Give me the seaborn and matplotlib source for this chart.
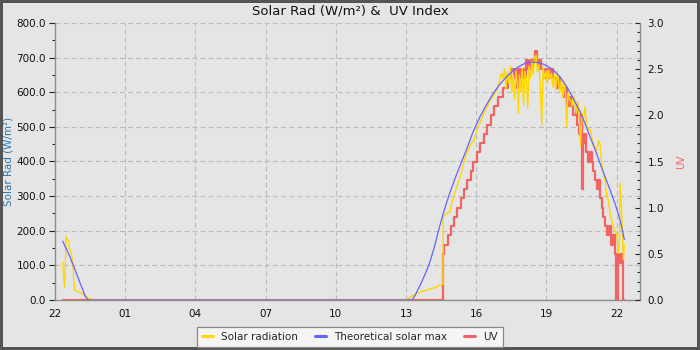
import matplotlib
matplotlib.use("Agg")
import matplotlib.pyplot as plt
import seaborn as sns
from matplotlib.lines import Line2D
from matplotlib.ticker import MultipleLocator, FormatStrFormatter

# ---------------- data (hours after 22:00 of the first day) ----------------
solar_hours = [0.34, 0.35, 0.38, 0.41, 0.44, 0.47, 0.52, 0.57, 0.62, 0.66, 0.71, 0.76, 0.79,
               0.82, 0.85, 0.95, 1.07, 1.15, 1.25, 1.35, 1.45, 1.58, 1.65,
               14.95, 15.03, 15.2, 15.46, 15.7, 15.88, 16.1, 16.31, 16.5, 16.58,
               16.59, 16.66, 16.74, 16.88, 16.95, 17.09, 17.31, 17.52, 17.74, 17.81, 17.9,
               18.02, 18.3, 18.59, 18.88,
               19.08, 19.15, 19.21, 19.27, 19.33, 19.4, 19.46, 19.52, 19.58, 19.64, 19.7,
               19.76, 19.8, 19.85, 19.91, 19.97, 20.02, 20.08, 20.14, 20.2, 20.26, 20.32,
               20.38, 20.44, 20.5, 20.56, 20.62, 20.68, 20.74, 20.8, 20.86, 20.92, 20.98,
               21.04, 21.1, 21.16, 21.22, 21.28, 21.34, 21.4, 21.46, 21.52, 21.58, 21.64,
               21.7, 21.76, 21.82, 21.87, 21.92, 21.98, 22.04, 22.1, 22.16, 22.22, 22.28,
               22.34, 22.4, 22.46, 22.52, 22.58, 22.65, 22.72, 22.8, 22.88, 22.94, 23.0,
               23.08, 23.15, 23.22, 23.29, 23.36, 23.43, 23.5, 23.58, 23.65, 23.72, 23.79,
               23.86, 23.93, 24.0, 24.08, 24.12, 24.15, 24.22, 24.29, 24.33]
solar_wm2 = [110, 87, 60, 38, 100, 183, 176, 170, 150, 140, 128, 108, 75,
             40, 29, 25, 23, 18, 15, 10, 5, 2, 0,
             0, 2, 9, 19, 25, 29, 33, 38, 43, 45,
             240, 245, 250, 255, 279, 310, 355, 410, 445, 455, 458,
             490, 535, 575, 605,
             655, 640, 668, 610, 660, 625, 675, 600, 650, 580, 660,
             620, 539, 650, 600, 670, 563, 660, 640, 554, 675, 640,
             690, 650, 700, 707, 660, 680, 620, 505, 674, 640, 660,
             626, 664, 640, 655, 615, 650, 607, 660, 630, 600, 640,
             585, 630, 590, 500, 598, 580, 575, 560, 590, 568, 540,
             575, 529, 445, 540, 520, 558, 500, 495, 491, 470, 452,
             440, 433, 460, 452, 395, 370, 347, 298, 289, 250, 230,
             212, 200, 193, 135, 170, 337, 250, 116, 160]

theory_hours = [0.33, 0.5, 0.64, 0.75, 0.86, 1.0, 1.07, 1.2, 1.28, 1.41,
                15.26, 15.4, 15.6, 15.8, 16.0, 16.2, 16.4, 16.59, 16.85, 17.09, 17.35,
                17.59, 17.85, 18.16, 18.45, 18.73, 19.0, 19.3, 19.6, 19.87, 20.1, 20.3,
                20.5, 20.73, 21.0, 21.3, 21.6, 21.87, 22.15, 22.44, 22.65, 22.86, 23.08,
                23.29, 23.5, 23.72, 23.95, 24.15, 24.33]
theory_wm2 = [170, 145, 124, 105, 87, 62, 49, 28, 12, 0,
              0, 15, 42, 72, 105, 150, 203, 250, 305, 350, 395,
              435, 483, 529, 565, 597, 622, 645, 664, 676, 684, 687,
              687, 685, 677, 664, 643, 616, 582, 544, 510, 472, 435,
              395, 357, 318, 275, 231, 175]

uv_hours = [0.34, 16.56, 16.64, 16.78, 16.92, 17.05, 17.2, 17.33, 17.47, 17.62, 17.76,
            17.88, 18.02, 18.18, 18.33, 18.48, 18.62, 18.78, 18.95, 19.15, 19.35, 19.5,
            19.6, 19.68, 19.75, 19.82, 19.9, 19.98, 20.05, 20.12, 20.2, 20.28, 20.36,
            20.44, 20.5, 20.58, 20.62, 20.7, 20.78, 20.9, 21.0, 21.1, 21.2, 21.3, 21.4,
            21.5, 21.6, 21.7, 21.8, 21.88, 21.95, 22.05, 22.15, 22.25, 22.32, 22.4,
            22.45, 22.52, 22.56, 22.62, 22.7, 22.78, 22.86, 22.94, 23.0, 23.08, 23.15,
            23.22, 23.29, 23.36, 23.43, 23.5, 23.58, 23.68, 23.75, 23.85, 23.93, 23.97,
            24.06, 24.12, 24.18, 24.26, 24.29, 24.32]
uv_index = [0.0, 0.5, 0.6, 0.7, 0.8, 0.9, 1.0, 1.1, 1.2, 1.3, 1.4,
            1.5, 1.6, 1.7, 1.8, 1.9, 2.0, 2.1, 2.2, 2.3, 2.4, 2.5,
            2.4, 2.5, 2.3, 2.5, 2.4, 2.5, 2.4, 2.6, 2.5, 2.6, 2.5,
            2.6, 2.7, 2.6, 2.5, 2.6, 2.5, 2.4, 2.5, 2.4, 2.5, 2.4, 2.3,
            2.4, 2.3, 2.2, 2.3, 2.1, 2.2, 2.1, 2.0, 2.1, 1.9, 1.8,
            2.0, 1.2, 1.7, 1.8, 1.6, 1.5, 1.6, 1.5, 1.4, 1.3, 1.2,
            1.3, 1.1, 1.0, 0.9, 0.8, 0.7, 0.8, 0.6, 0.7, 0.5, 0.0,
            0.5, 0.4, 0.5, 0.3, 0.0, 0.0]

xtick_labels = ["22", "01", "04", "07", "10", "13", "16", "19", "22"]
legend_labels = ["Solar radiation", "Theoretical solar max", "UV"]
title_text = "Solar Rad (W/m\u00b2) &  UV Index"
left_label = "Solar Rad (W/m\u00b2)"
right_label = "UV"

# ---------------- style ----------------
sns.set_style("white")
plt.rcParams['font.family'] = ['DejaVu Sans']
plt.rcParams['lines.scale_dashes'] = False

BG = '#e5e5e5'
C_SOLAR = '#ffd700'
C_THEORY = '#6464ff'
C_UV = '#f26464'
SPINE = '#8c8c8c'

fig = plt.figure(figsize=(7, 3.5), dpi=100, facecolor=BG,
                 edgecolor='#555555', linewidth=4)
ax = fig.add_axes([55/700, 50/350, 585/700, 277/350])
ax.set_facecolor(BG)
ax.set_xlim(0, 25)
ax.set_ylim(0, 800)

ax_uv = ax.twinx()
ax_uv.set_ylim(0, 3.0)
ax_top = ax.twinx()
ax_top.set_ylim(0, 800)

# UV (bottom-most line)
sns.lineplot(x=uv_hours, y=uv_index, ax=ax_uv, color=C_UV, linewidth=1.6,
             drawstyle='steps-post', estimator=None, errorbar=None, sort=False, legend=False)
# solar radiation and theoretical max on top
sns.lineplot(x=solar_hours, y=solar_wm2, ax=ax_top, color=C_SOLAR, linewidth=1.0,
             estimator=None, errorbar=None, sort=False, legend=False)
sns.lineplot(x=theory_hours, y=theory_wm2, ax=ax_top, color=C_THEORY, linewidth=0.9,
             estimator=None, errorbar=None, sort=False, legend=False)
ax_top.set_ylim(0, 800)
ax_top.set_xlim(0, 25)
ax_top.set_ylabel('')
ax_top.set_yticks([])
for s in ax_top.spines.values():
    s.set_visible(False)

# x axis
ax.set_xticks(range(0, 25, 3))
ax.set_xticklabels(xtick_labels)
ax.set_xticks(range(0, 26), minor=True)

# left axis
ax.yaxis.set_major_locator(MultipleLocator(100))
ax.yaxis.set_minor_locator(MultipleLocator(50))
ax.yaxis.set_major_formatter(FormatStrFormatter('%.1f'))
ax.tick_params(axis='both', which='major', direction='out', length=4, width=0.8,
               color='#222222', labelsize=7.5, pad=2.5, labelcolor='#111111')
ax.tick_params(axis='both', which='minor', direction='out', length=2.4, width=0.8,
               color='#222222')
ax.set_ylabel('')
ax.grid(True, which='major', color='#bcbcbc', linestyle=(0, (3.6, 2.2)), linewidth=0.8)
ax.set_axisbelow(True)

# right axis
ax_uv.yaxis.set_major_locator(MultipleLocator(0.5))
ax_uv.yaxis.set_minor_locator(MultipleLocator(0.1))
ax_uv.yaxis.set_major_formatter(FormatStrFormatter('%.1f'))
ax_uv.tick_params(axis='y', which='major', direction='in', length=3.6, width=0.8,
                  color='#222222', labelsize=7.5, pad=5.5, labelcolor='#111111')
ax_uv.tick_params(axis='y', which='minor', direction='in', length=2.2, width=0.8,
                  color='#222222')
ax_uv.set_ylabel('')

for name, s in ax.spines.items():
    s.set_visible(name in ('left', 'bottom'))
    s.set_color(SPINE)
    s.set_linewidth(1.0)
for name, s in ax_uv.spines.items():
    s.set_visible(name == 'right')
    s.set_color(SPINE)
    s.set_linewidth(1.0)

# texts
fig.text(0.5, 1 - 11/350, title_text, ha='center', va='center', fontsize=9.5, color='#111111')
fig.text(9/700, 1 - 161.5/350, left_label, ha='center', va='center', rotation=90,
         fontsize=7.5, color='#2f77ad')
fig.text(681/700, 1 - 161.5/350, right_label, ha='center', va='center', rotation=90,
         fontsize=7.5, color=C_UV)

handles = [Line2D([], [], color=C_SOLAR, linewidth=2.2),
           Line2D([], [], color=C_THEORY, linewidth=2.2),
           Line2D([], [], color=C_UV, linewidth=2.2)]
leg = fig.legend(handles, legend_labels, loc='center', bbox_to_anchor=(350/700, 1 - 337/350),
                 ncol=3, fontsize=7.5, frameon=True, fancybox=False, edgecolor='#888888',
                 facecolor='#f5f5f5', framealpha=1, handlelength=1.05, handletextpad=0.8,
                 columnspacing=1.6, borderpad=0.45)
leg.get_frame().set_linewidth(0.9)

fig.savefig('out.png', dpi=100, facecolor=BG, edgecolor='#555555')
